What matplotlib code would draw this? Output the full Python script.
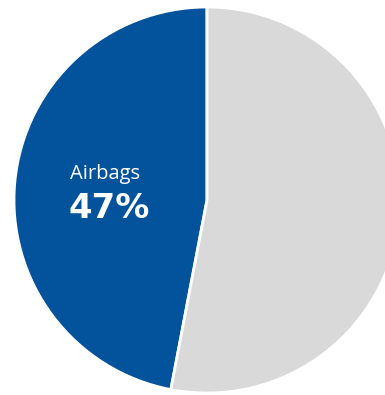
import matplotlib.pyplot as plt

# shares of the pie
categorias = ["Airbags", "Outros"]
valores = [47, 53]
cores = ["#03539C", "#D9D9D9"]

fig = plt.figure(figsize=(3.85, 3.95), dpi=100)
ax = fig.add_axes([0, 0, 1, 1])

ax.pie(valores, colors=cores, startangle=90, counterclock=True,
       center=(207, 195), radius=193, frame=True,
       wedgeprops=dict(edgecolor="white", linewidth=2))
ax.set_xlim(0, 385)
ax.set_ylim(0, 395)
ax.axis("off")

ax.text(70, 216, categorias[0], color="white", fontsize=14.5,
        family="Open Sans", ha="left", va="baseline")
ax.text(68, 177.5, f"{valores[0]}%", color="white", fontsize=24.5,
        family="DejaVu Sans", fontweight="bold", ha="left", va="baseline")

plt.savefig("out.png", dpi=100)
plt.close()
